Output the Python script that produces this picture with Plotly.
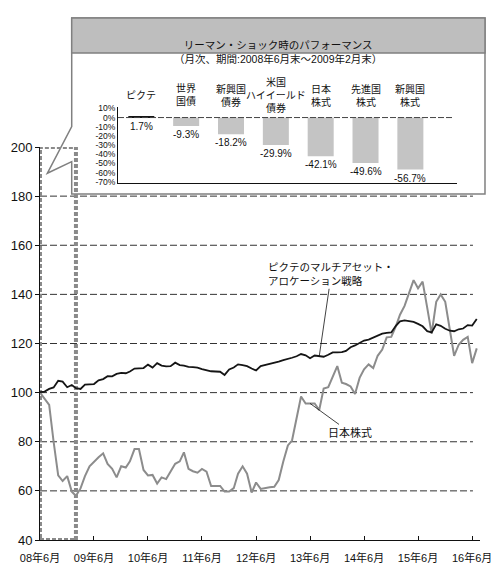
import pandas as pd
import plotly.graph_objects as go

# the page body keeps its 8px margin, so the figure is laid out in window pixels minus 8
OFF = 8
W, H = 500 - OFF, 578 - OFF
FONT = "Liberation Sans, Noto Sans CJK JP, sans-serif"

# monthly index, 2008/6 .. 2016/7 (start = 100)
dates = pd.date_range("2008-06-30", periods=98, freq="ME")

pictet = [100.2, 100.4, 101.5, 102.1, 104.8, 104.5, 102.2, 103.1, 101.8, 101.5,
          103.3, 103.3, 103.5, 105.0, 105.5, 106.7, 106.6, 107.6, 108.0, 107.9,
          108.6, 109.8, 109.9, 110.0, 111.4, 110.2, 112.0, 111.0, 110.7, 110.8,
          112.2, 111.2, 111.0, 110.5, 110.4, 110.2, 109.6, 109.0, 108.7, 108.6,
          108.5, 107.2, 109.4, 110.2, 111.5, 111.2, 110.8, 109.8, 109.0, 110.8,
          111.2, 111.8, 112.2, 112.6, 113.2, 113.6, 114.2, 114.8, 115.7, 115.2,
          114.0, 115.1, 114.8, 114.6, 115.4, 116.4, 116.4, 116.5, 117.0, 118.5,
          119.2, 120.3, 121.2, 121.6, 122.5, 123.3, 124.0, 124.3, 124.5, 127.2,
          129.0, 129.4, 129.2, 128.8, 128.0, 127.0, 125.0, 124.5, 127.8, 127.2,
          126.0, 125.2, 125.0, 125.8, 126.1, 127.5, 127.3, 130.0]

japan = [100.0, 97.5, 95.0, 80.0, 66.3, 64.0, 66.0, 59.7, 58.0, 61.0,
         66.0, 70.0, 72.0, 73.7, 75.3, 71.0, 69.0, 65.5, 70.0, 69.5,
         72.0, 77.0, 77.0, 68.5, 66.3, 66.5, 63.0, 65.5, 64.8, 68.0,
         71.0, 72.0, 75.7, 69.0, 68.0, 67.4, 68.9, 67.8, 62.0, 62.0,
         62.0, 59.7, 59.7, 61.1, 67.0, 70.0, 67.0, 59.3, 63.4, 60.8,
         61.3, 61.5, 61.7, 64.4, 72.0, 78.5, 80.5, 89.7, 98.4, 95.6,
         95.6, 95.6, 92.9, 101.7, 102.2, 106.5, 110.8, 104.0, 103.5, 102.5,
         99.4, 106.0, 109.5, 111.5, 110.0, 115.0, 117.5, 122.5, 122.7, 127.0,
         131.7, 135.3, 140.5, 145.8, 142.5, 145.2, 134.6, 124.0, 137.0, 140.0,
         137.0, 126.0, 115.0, 119.5, 121.5, 122.7, 112.0, 118.0]

tick_dates = pd.date_range("2008-06-30", periods=9, freq="12ME")
y_ticks = [40, 60, 80, 100, 120, 140, 160, 180, 200]
grid_vals = [60, 80, 100, 120, 140, 160, 180]
period = ["2008-06-30", "2009-02-28"]

# inset: performance during the Lehman shock
inset_title = "リーマン・ショック時のパフォーマンス<br>（月次、期間:2008年6月末～2009年2月末）"
assets = ["ピクテ", "世界国債", "新興国債券", "米国ハイイールド債券", "日本株式", "先進国株式", "新興国株式"]
asset_labels = ["ピクテ", "世界<br>国債", "新興国<br>債券", "米国<br>ハイイールド<br>債券",
                "日本<br>株式", "先進国<br>株式", "新興国<br>株式"]
perf = [1.7, -9.3, -18.2, -29.9, -42.1, -49.6, -56.7]
pct_ticks = [10, 0, -10, -20, -30, -40, -50, -60, -70]


def px(x):
    return (x - OFF) / W


def py(y):
    return 1 - (y - OFF) / H


fig = go.Figure()

fig.add_trace(go.Scatter(x=dates, y=japan, mode="lines",
                         line=dict(color="#8c8c8c", width=2), xaxis="x", yaxis="y"))
fig.add_trace(go.Scatter(x=dates, y=pictet, mode="lines",
                         line=dict(color="#151515", width=1.8), xaxis="x", yaxis="y"))

bar_colors = ["#151515"] + ["#c4c4c4"] * (len(perf) - 1)
fig.add_trace(go.Bar(x=assets, y=perf, marker=dict(color=bar_colors, line_width=0),
                     width=0.58, xaxis="x2", yaxis="y2"))

# dashed grid lines
for g in grid_vals:
    fig.add_shape(type="line", xref="x domain", yref="y", x0=0, x1=0.984, y0=g, y1=g,
                  line=dict(color="#333333", width=1, dash="7px,3px"), layer="below")

# dotted box marking the shock period
fig.add_shape(type="rect", xref="x", yref="y", x0=period[0], x1=period[1], y0=40, y1=200,
              line=dict(color="#8a8a8a", width=4, dash="4px,2px"), layer="below")

# callout balloon
pts = [(71.7, 18), (485, 18), (485, 194), (71.7, 194), (71.7, 161.7), (47.3, 173.3), (71.7, 126.7)]
path = "M " + " L ".join(f"{px(a):.4f},{py(b):.4f}" for a, b in pts) + " Z"
fig.add_shape(type="path", xref="paper", yref="paper", path=path,
              fillcolor="white", line=dict(color="#808080", width=1.5), layer="below")
fig.add_shape(type="rect", xref="paper", yref="paper", x0=px(71.7), x1=px(485), y0=py(53), y1=py(18),
              fillcolor="#bebebe", line=dict(color="#808080", width=1.5), layer="below")

# zero line of the inset
fig.add_shape(type="line", xref="x2 domain", yref="y2", x0=0, x1=0.99, y0=0, y1=0,
              line=dict(color="#444444", width=1, dash="6px,2px"), layer="above")

fig.add_annotation(text=inset_title, xref="paper", yref="paper", x=px(278), y=py(37),
                   showarrow=False, font=dict(size=10.5, color="#111"))

for a, lab in zip(assets, asset_labels):
    fig.add_annotation(text=lab, xref="x2", yref="paper", x=a, y=py(95), yanchor="middle",
                       showarrow=False, font=dict(size=10, color="#111"))

for a, v in zip(assets, perf):
    fig.add_annotation(text=f"{v:.1f}%", xref="x2", yref="y2", x=a, y=min(v, 0), yanchor="top",
                       yshift=-1, showarrow=False, font=dict(size=10, color="#111"))

fig.add_annotation(text="ピクテのマルチアセット・<br>アロケーション戦略", x=dates[62], y=pictet[62],
                   xref="x", yref="y", ax=12, ay=-82, align="left",
                   showarrow=True, arrowhead=0, arrowwidth=0.8, arrowcolor="#111",
                   font=dict(size=10.5, color="#111"))
fig.add_annotation(text="日本株式", x=dates[60], y=japan[60], xref="x", yref="y", ax=40, ay=29,
                   showarrow=True, arrowhead=0, arrowwidth=0.8, arrowcolor="#111",
                   font=dict(size=11, color="#111"))

fig.update_layout(
    template="none",
    width=W, height=H, margin=dict(l=0, r=0, t=0, b=0, pad=0),
    paper_bgcolor="white", plot_bgcolor="rgba(0,0,0,0)",
    showlegend=False, font=dict(family=FONT, color="#111"),
    xaxis=dict(domain=[px(40), px(480)], type="date", range=["2008-06-30", "2016-08-22"],
               tickvals=tick_dates, tickformat="%y年%-m月", ticks="inside", ticklen=4,
               tickcolor="#111", showline=True, linecolor="#111", linewidth=1,
               showgrid=False, zeroline=False, tickfont=dict(size=11), ticklabelstandoff=8,
               automargin=False, anchor="y"),
    yaxis=dict(domain=[py(540), py(147)], range=[40, 200], tickvals=y_ticks,
               ticks="outside", ticklen=4, tickcolor="#111", showline=True, linecolor="#111",
               linewidth=1, showgrid=False, zeroline=False, tickfont=dict(size=13),
               automargin=False, anchor="x"),
    xaxis2=dict(domain=[px(118), px(457)], type="category", range=[-0.52, 7.04],
                showticklabels=False, ticks="", showline=True, linecolor="#111", linewidth=1,
                showgrid=False, zeroline=False, automargin=False, anchor="y2"),
    yaxis2=dict(domain=[py(183.3), py(107)], range=[-71.7, 11.5], tickvals=pct_ticks,
                ticktext=[f"{v}%" for v in pct_ticks], ticks="", showline=True,
                linecolor="#111", linewidth=1, showgrid=False, zeroline=False,
                tickfont=dict(size=8.5), automargin=False, anchor="x2"),
)

fig.write_html("out.html")
